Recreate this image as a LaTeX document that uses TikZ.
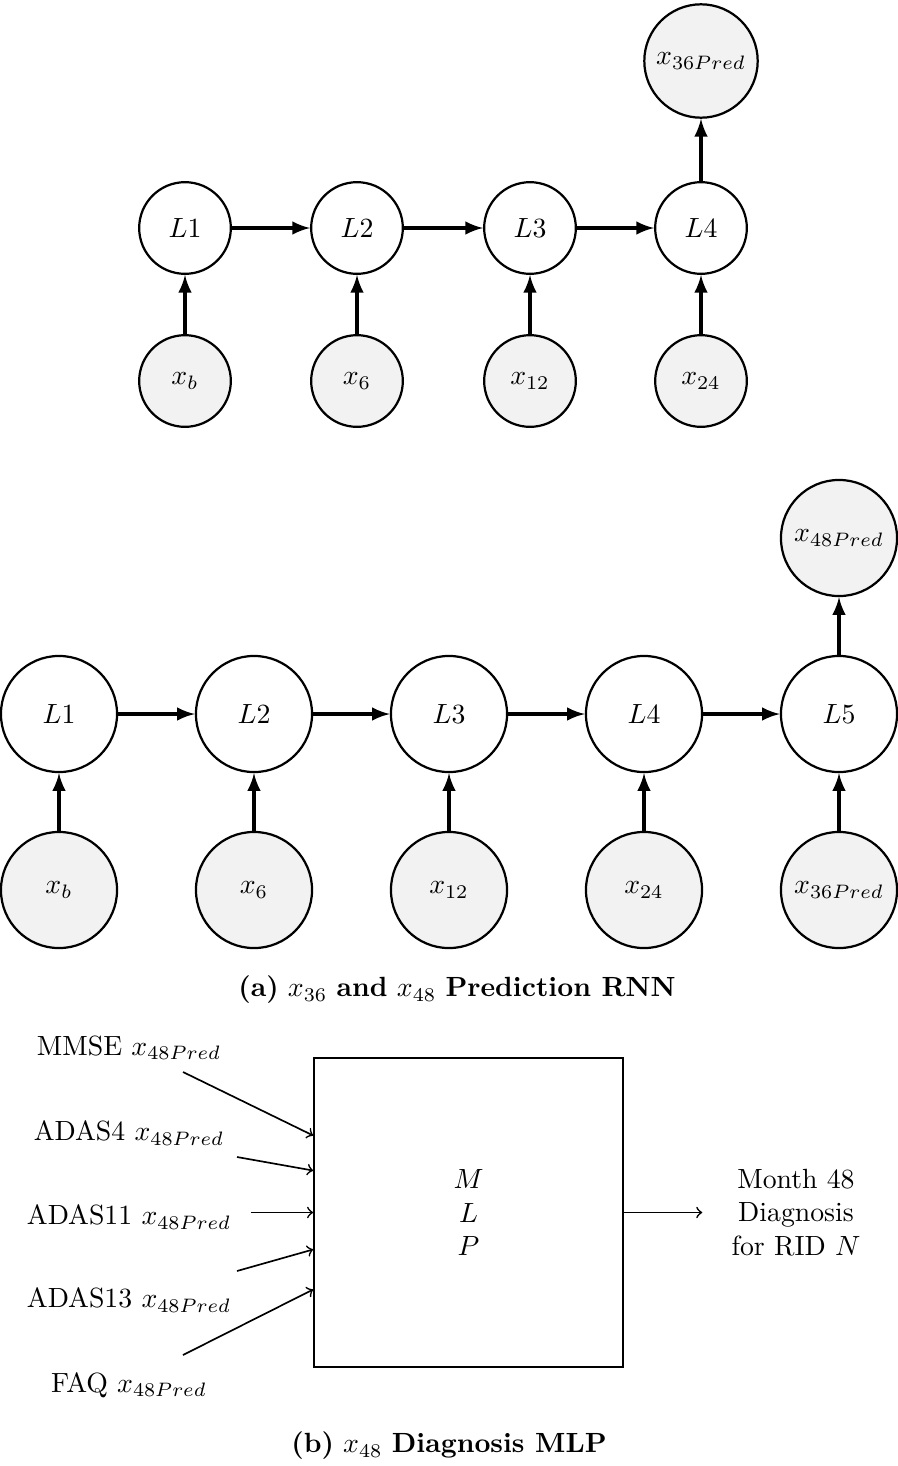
\documentclass[tikz,border=0pt]{standalone}
\usetikzlibrary{arrows,positioning}
\begin{document}
\begin{tikzpicture}[x=0.36pt,y=-0.36pt,
  hid/.style={circle,draw,thick,minimum size=33pt},
  obs/.style={hid,fill=gray!10},
  big/.style={minimum size=41.8pt},
  flow/.style={-latex,very thick},
  feed/.style={->,semithick}]
\useasboundingbox (0,0) rectangle (898,1466);

\foreach \n/\x/\lab in {1/185/b,2/357/6,3/530/12,4/701/24}{
  \node[hid] (a\n) at (\x,228) {$L\n$};
  \node[obs] (ai\n) at (\x,381) {$x_{\lab}$};
  \draw[flow] (ai\n) -- (a\n);
}
\node[obs] (aout) at (701,61) {$x_{36Pred}$};
\draw[flow] (a1) -- (a2);
\draw[flow] (a2) -- (a3);
\draw[flow] (a3) -- (a4);
\draw[flow] (a4) -- (aout);

\foreach \n/\x/\lab in {1/59/b,2/254/6,3/449/12,4/644/24,5/839/36Pred}{
  \node[hid,big] (b\n) at (\x,714) {$L\n$};
  \node[obs,big] (bi\n) at (\x,890) {$x_{\lab}$};
  \draw[flow] (bi\n) -- (b\n);
}
\node[obs,big] (bout) at (839,538) {$x_{48Pred}$};
\foreach \i/\j in {1/2,2/3,3/4,4/5}
  \draw[flow] (b\i) -- (b\j);
\draw[flow] (b5) -- (bout);

\node (capa) at (457,990) {\textbf{(a)} $x_{36}$ \textbf{and} $x_{48}$ \textbf{Prediction RNN}};

\node[draw,thick,minimum size=111pt,align=center] (mlp) at (468.5,1212.5) {$M$\\$L$\\$P$};

\node (in1) at (129,1048) {MMSE $x_{48Pred}$};
\node (in2) at (129,1133) {ADAS4 $x_{48Pred}$};
\node (in3) at (129,1217) {ADAS11 $x_{48Pred}$};
\node (in4) at (129,1300) {ADAS13 $x_{48Pred}$};
\node (in5) at (129,1385) {FAQ $x_{48Pred}$};
\coordinate (s1) at (183,1072);
\coordinate (s2) at (237,1157);
\coordinate (s3) at (251,1212.5);
\coordinate (s4) at (237,1271);
\coordinate (s5) at (183,1355);
\draw[feed] (s1) -- ([yshift=27.7pt]mlp.west);
\draw[feed] (s2) -- ([yshift=15.1pt]mlp.west);
\draw[feed] (s3) -- (mlp.west);
\draw[feed] (s4) -- ([yshift=-13.3pt]mlp.west);
\draw[feed] (s5) -- ([yshift=-27.7pt]mlp.west);

\node[align=center] (diag) at (796,1212.5) {Month 48\\Diagnosis\\for RID $N$};
\draw[feed,shorten >=7pt] (mlp.east) -- (diag.west);

\node (capb) at (449,1446) {\textbf{(b)} $x_{48}$ \textbf{Diagnosis MLP}};
\end{tikzpicture}
\end{document}
